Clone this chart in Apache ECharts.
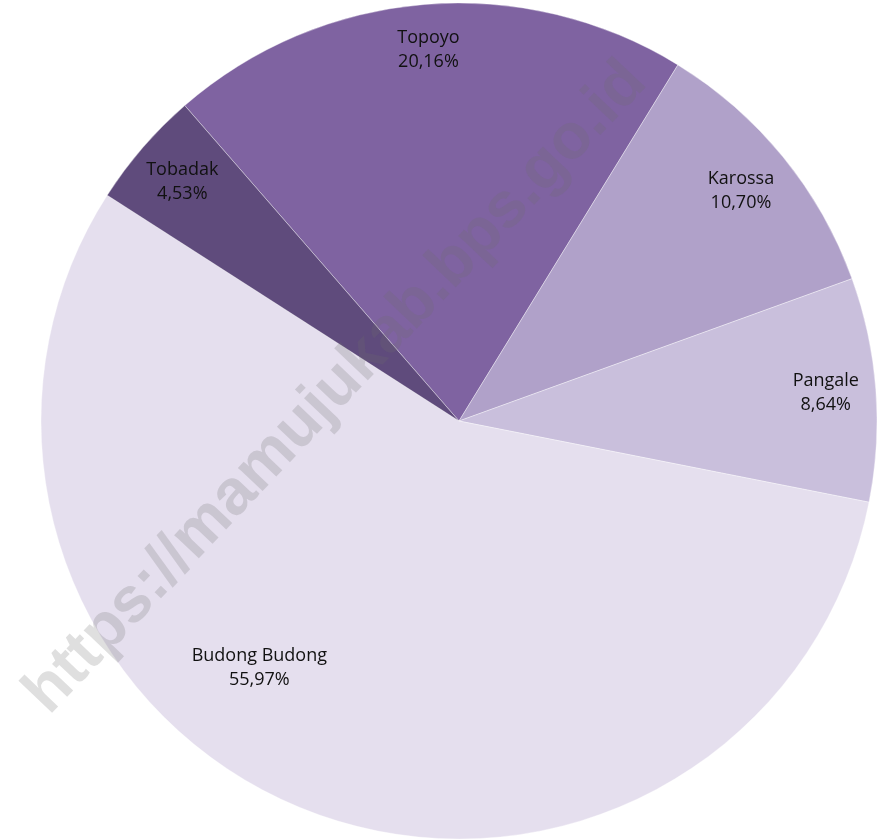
<!DOCTYPE html>
<html lang="en">
<head>
    <meta charset="UTF-8">
    <title>Pie</title>
    <script src="https://cdn.jsdelivr.net/npm/echarts@6/dist/echarts.min.js"></script>
    <style>
        html, body { margin: 0; padding: 0; background: #fff; }
    </style>
</head>
<body>
<div id="container" style="width: 878px; height: 839px"></div>

<script type="text/javascript">
    var names = ['Topoyo', 'Karossa', 'Pangale', 'Budong Budong', 'Tobadak'];
    var shares = [20.16, 10.70, 8.64, 55.97, 4.53];
    var colors = ['#7f63a1', '#b0a1c9', '#c9bfdc', '#e5dfee', '#5f4b7c'];

    var cx = 459, cy = 421, R = 418, startAngle = 131;
    // where Excel put each label: fraction of radius, extra clockwise turn in degrees
    var labelSpot = [[0.89, 0], [0.87, 0], [0.88, 0], [0.76, 17], [0.875, 0]];

    var total = shares.reduce(function (a, b) { return a + b; }, 0);
    var midAngles = [];
    var acc = 0;
    shares.forEach(function (v) {
        midAngles.push(startAngle - (acc + v / 2) / total * 360);
        acc += v;
    });

    var dom = document.getElementById('container');
    var myChart = echarts.init(dom, null, { renderer: 'canvas' });

    var option = {
        animation: false,
        backgroundColor: '#fff',
        series: [{
            type: 'pie',
            center: [cx, cy],
            radius: R,
            startAngle: startAngle,
            clockwise: true,
            avoidLabelOverlap: false,
            itemStyle: { borderColor: 'rgba(255,255,255,0.6)', borderWidth: 0.6 },
            label: {
                position: 'inside',
                color: '#111',
                fontFamily: 'Open Sans',
                fontSize: 18,
                lineHeight: 24,
                formatter: function (p) {
                    return p.name + '\n' + shares[p.dataIndex].toFixed(2).replace('.', ',') + '%';
                }
            },
            labelLine: { show: false },
            labelLayout: function (p) {
                var s = labelSpot[p.dataIndex];
                var a = (midAngles[p.dataIndex] - s[1]) * Math.PI / 180;
                return {
                    x: cx + s[0] * R * Math.cos(a),
                    y: cy - s[0] * R * Math.sin(a),
                    align: 'center',
                    verticalAlign: 'middle'
                };
            },
            emphasis: { disabled: true },
            data: names.map(function (n, i) {
                return { name: n, value: shares[i], itemStyle: { color: colors[i] } };
            })
        }],
        graphic: [{
            type: 'text',
            x: 336,
            y: 388,
            rotation: 46.5 * Math.PI / 180,
            z: 100,
            style: {
                text: 'https://mamujukab.bps.go.id',
                fontFamily: 'Liberation Sans',
                fontWeight: 'bold',
                fontSize: 64,
                fill: 'rgba(110,110,110,0.22)',
                align: 'center',
                verticalAlign: 'middle'
            }
        }]
    };

    myChart.setOption(option);
    window.addEventListener('resize', myChart.resize);
</script>
</body>
</html>
